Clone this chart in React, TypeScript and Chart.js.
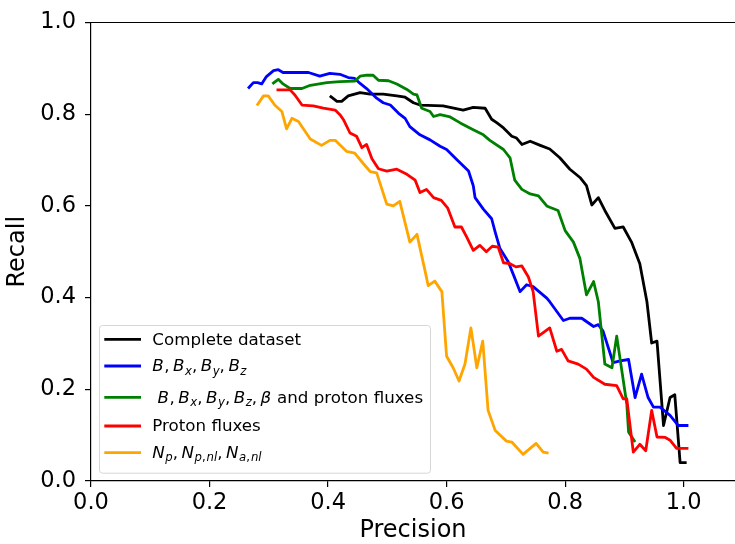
import React, { useEffect, useRef } from "react";
import { Chart, registerables } from "chart.js";

Chart.register(...registerables);

// ---- data -----------------------------------------------------------------
const seriesLabels = [
  "Complete dataset",
  "$B, B_x, B_y, B_z$",
  " $B, B_x, B_y, B_z, \\beta$ and proton fluxes",
  "Proton fluxes",
  "$N_p, N_{p,nl}, N_{a,nl}$",
];
const seriesColors = ["#000000", "#0000ff", "#008000", "#ff0000", "#ffa500"];

const xTicks = [0.0, 0.2, 0.4, 0.6, 0.8, 1.0];
const yTicks = [0.0, 0.2, 0.4, 0.6, 0.8, 1.0];

const blackX = [0.403,0.415,0.423,0.434,0.454,0.471,0.493,0.516,0.530,0.544,0.555,0.594,0.628,0.645,0.665,0.676,0.685,0.696,0.710,0.718,0.727,0.741,0.758,0.774,0.791,0.808,0.825,0.836,0.845,0.856,0.867,0.884,0.898,0.912,0.926,0.938,0.946,0.955,0.966,0.977,0.985,0.994,1.005];
const blackY = [0.840,0.828,0.828,0.840,0.847,0.844,0.844,0.840,0.837,0.825,0.820,0.818,0.809,0.815,0.813,0.789,0.781,0.770,0.752,0.748,0.734,0.741,0.732,0.724,0.705,0.680,0.662,0.644,0.602,0.618,0.590,0.551,0.554,0.521,0.474,0.391,0.301,0.305,0.121,0.182,0.188,0.040,0.040];

const blueX = [0.265,0.274,0.281,0.288,0.296,0.308,0.316,0.324,0.347,0.367,0.386,0.403,0.420,0.434,0.445,0.454,0.465,0.482,0.493,0.505,0.519,0.530,0.538,0.555,0.572,0.589,0.600,0.617,0.637,0.645,0.648,0.662,0.676,0.682,0.690,0.704,0.713,0.724,0.735,0.746,0.769,0.774,0.797,0.808,0.828,0.848,0.856,0.864,0.873,0.881,0.893,0.907,0.918,0.929,0.940,0.949,0.960,0.977,0.991,1.008];
const blueY = [0.856,0.869,0.869,0.866,0.882,0.895,0.897,0.891,0.891,0.891,0.883,0.889,0.887,0.880,0.878,0.867,0.856,0.835,0.825,0.820,0.802,0.791,0.773,0.755,0.744,0.730,0.723,0.701,0.676,0.644,0.618,0.593,0.572,0.543,0.507,0.478,0.449,0.413,0.428,0.424,0.399,0.391,0.350,0.355,0.355,0.337,0.341,0.327,0.290,0.258,0.262,0.265,0.182,0.233,0.182,0.161,0.161,0.143,0.121,0.121];

const greenX = [0.306,0.316,0.324,0.336,0.356,0.370,0.398,0.420,0.445,0.454,0.465,0.476,0.485,0.502,0.516,0.533,0.544,0.550,0.558,0.572,0.578,0.589,0.606,0.623,0.645,0.662,0.673,0.696,0.707,0.715,0.727,0.741,0.755,0.769,0.774,0.788,0.800,0.814,0.825,0.836,0.848,0.856,0.867,0.879,0.887,0.904,0.907,0.918];
const greenY = [0.866,0.876,0.866,0.856,0.856,0.863,0.869,0.871,0.872,0.883,0.885,0.885,0.874,0.873,0.866,0.854,0.844,0.842,0.813,0.806,0.795,0.799,0.794,0.781,0.766,0.755,0.743,0.723,0.705,0.656,0.636,0.626,0.622,0.600,0.597,0.590,0.546,0.521,0.485,0.406,0.435,0.391,0.255,0.247,0.316,0.168,0.107,0.085];

const redX = [0.313,0.336,0.344,0.356,0.375,0.392,0.412,0.420,0.426,0.437,0.448,0.457,0.465,0.474,0.485,0.499,0.516,0.533,0.547,0.555,0.566,0.578,0.591,0.602,0.614,0.625,0.634,0.645,0.656,0.667,0.677,0.687,0.696,0.707,0.717,0.727,0.738,0.746,0.755,0.774,0.786,0.794,0.805,0.822,0.836,0.848,0.867,0.887,0.898,0.904,0.915,0.926,0.936,0.946,0.955,0.969,0.977,0.988,1.008];
const redY = [0.853,0.853,0.842,0.820,0.818,0.813,0.809,0.799,0.788,0.759,0.752,0.727,0.734,0.703,0.681,0.676,0.680,0.669,0.656,0.629,0.636,0.618,0.612,0.595,0.554,0.554,0.532,0.503,0.514,0.500,0.512,0.510,0.476,0.474,0.467,0.469,0.445,0.413,0.316,0.334,0.283,0.287,0.262,0.255,0.244,0.226,0.211,0.208,0.179,0.179,0.063,0.080,0.066,0.154,0.096,0.095,0.089,0.071,0.071];

const orangeX = [0.280,0.291,0.299,0.310,0.322,0.330,0.339,0.350,0.370,0.389,0.403,0.412,0.431,0.445,0.459,0.471,0.482,0.499,0.510,0.521,0.538,0.550,0.564,0.569,0.580,0.592,0.600,0.611,0.621,0.631,0.641,0.651,0.661,0.670,0.682,0.701,0.710,0.729,0.751,0.763,0.772];
const orangeY = [0.819,0.840,0.840,0.820,0.806,0.768,0.791,0.784,0.746,0.732,0.743,0.743,0.719,0.715,0.693,0.675,0.672,0.604,0.600,0.610,0.521,0.538,0.456,0.426,0.436,0.413,0.272,0.247,0.218,0.255,0.334,0.247,0.305,0.154,0.110,0.087,0.085,0.058,0.082,0.063,0.061];

const seriesX = [blackX, blueX, greenX, redX, orangeX];
const seriesY = [blackY, blueY, greenY, redY, orangeY];

// ---- tiny mathtext renderer for the legend ---------------------------------
type Seg = { t: string; it: boolean; sub: boolean; comma?: boolean };
const greek: Record<string, string> = { beta: "β", alpha: "α", gamma: "γ" };

function parseLabel(label: string): Seg[] {
  const segs: Seg[] = [];
  const parts = label.split("$");
  const pushMath = (s: string, sub: boolean) => {
    let k = 0;
    while (k < s.length) {
      const c = s[k];
      if (c === "\\") {
        const m = /^\\([a-zA-Z]+)/.exec(s.slice(k));
        const name = m ? m[1] : "";
        segs.push({ t: greek[name] ?? name, it: true, sub });
        k += m ? m[0].length : 1;
        continue;
      }
      if (c === " ") { k++; continue; }
      if (c === ",") { segs.push({ t: ",", it: false, sub, comma: true }); k++; continue; }
      if (c === "_") {
        k++;
        let content = "";
        if (s[k] === "{") {
          const end = s.indexOf("}", k);
          content = s.slice(k + 1, end);
          k = end + 1;
        } else {
          content = s[k];
          k++;
        }
        pushMath(content, true);
        continue;
      }
      segs.push({ t: c, it: true, sub });
      k++;
    }
  };
  parts.forEach((p, i) => {
    if (i % 2 === 0) {
      if (p) segs.push({ t: p, it: false, sub: false });
    } else pushMath(p, false);
  });
  return segs;
}

const FONT = "'DejaVu Sans', 'Liberation Sans', sans-serif";

const legendPlugin = {
  id: "mplLegend",
  afterDraw(chart: any) {
    const ctx: CanvasRenderingContext2D = chart.ctx;
    const ca = chart.chartArea;
    const size = 16.7;
    const subSize = size * 0.7;
    const boxL = ca.left + 8;
    const boxB = ca.bottom - 8.3;
    const boxW = 331;
    const boxH = 147.7;
    const boxT = boxB - boxH;
    ctx.save();
    ctx.beginPath();
    (ctx as any).roundRect(boxL + 0.5, boxT + 0.5, boxW, boxH, 3);
    ctx.fillStyle = "rgba(255,255,255,0.8)";
    ctx.fill();
    ctx.strokeStyle = "#d6d6d6";
    ctx.lineWidth = 1;
    ctx.stroke();

    const rowOffsets = [14.3, 41.0, 72.3, 101.0, 127.7];
    const datasets = chart.data.datasets;
    datasets.forEach((ds: any, i: number) => {
      const ly = boxT + rowOffsets[i];
      ctx.beginPath();
      ctx.moveTo(boxL + 5.3, ly);
      ctx.lineTo(boxL + 42, ly);
      ctx.strokeStyle = ds.borderColor;
      ctx.lineWidth = 2.8;
      ctx.lineCap = "butt";
      ctx.stroke();

      let x = boxL + 53.3;
      const base = ly + 5.4;
      ctx.fillStyle = "#000";
      ctx.textBaseline = "alphabetic";
      ctx.textAlign = "left";
      for (const s of parseLabel(ds.label)) {
        const fs = s.sub ? subSize : size;
        ctx.font = `${s.it ? "italic " : ""}${fs}px ${FONT}`;
        const y = s.sub ? base + 3.3 : base;
        ctx.fillText(s.t, x, y);
        x += ctx.measureText(s.t).width;
        if (s.comma) x += s.sub ? 1.0 : 3.5;
        else if (s.it && !s.sub) x += 0.5;
      }
    });
    ctx.restore();
  },
};

const topSpinePlugin = {
  id: "topSpine",
  afterDatasetsDraw(chart: any) {
    const ctx: CanvasRenderingContext2D = chart.ctx;
    const ca = chart.chartArea;
    ctx.save();
    ctx.beginPath();
    ctx.moveTo(ca.left, ca.top);
    ctx.lineTo(ca.right, ca.top);
    ctx.strokeStyle = "#000";
    ctx.lineWidth = 1.2;
    ctx.stroke();
    ctx.restore();
  },
};

export default function App() {
  const ref = useRef<HTMLCanvasElement | null>(null);

  useEffect(() => {
    if (!ref.current) return;
    const datasets = seriesLabels.map((label, i) => ({
      label,
      data: seriesX[i].map((x, k) => ({ x, y: seriesY[i][k] })),
      showLine: true,
      borderColor: seriesColors[i],
      backgroundColor: seriesColors[i],
      borderWidth: 2.8,
      pointRadius: 0,
      pointHoverRadius: 0,
      tension: 0,
      borderJoinStyle: "round" as const,
      borderCapStyle: "butt" as const,
      order: seriesLabels.length - 1 - i,
    }));

    const tickFont = { family: FONT, size: 22.5 };
    const titleFont = { family: FONT, size: 24, lineHeight: 1.2 };

    const chart = new Chart(ref.current, {
      type: "scatter",
      data: { datasets },
      options: {
        animation: false,
        responsive: false,
        devicePixelRatio: 1,
        layout: { padding: { top: 18.5, right: 0, bottom: 0, left: 0 } },
        plugins: { legend: { display: false }, tooltip: { enabled: false } },
        events: [],
        scales: {
          x: {
            type: "linear",
            min: 0,
            max: 1.0866,
            afterFit: (s: any) => { s.height = 63; },
            afterBuildTicks: (s: any) => { s.ticks = xTicks.map((v) => ({ value: v })); },
            ticks: {
              includeBounds: false,
              font: tickFont,
              color: "#000",
              padding: 2.8,
              maxRotation: 0,
              autoSkip: false,
              callback: (v: any) => Number(v).toFixed(1),
            },
            grid: { display: true, drawOnChartArea: false, drawTicks: true, tickLength: 6, color: "#000", lineWidth: 1.2 },
            border: { display: true, color: "#000", width: 1.2 },
            title: { display: true, text: "Precision", font: titleFont, color: "#000", padding: { top: 0, bottom: -1.4 } },
          },
          y: {
            type: "linear",
            min: 0,
            max: 1,
            afterFit: (s: any) => { s.width = 91; },
            afterBuildTicks: (s: any) => { s.ticks = yTicks.map((v) => ({ value: v })); },
            ticks: {
              font: tickFont,
              color: "#000",
              padding: 9,
              autoSkip: false,
              callback: (v: any) => Number(v).toFixed(1),
            },
            grid: { display: true, drawOnChartArea: false, drawTicks: true, tickLength: 6, color: "#000", lineWidth: 1.2 },
            border: { display: true, color: "#000", width: 1.2 },
            title: { display: true, text: "Recall", font: titleFont, color: "#000", padding: { top: 3.6, bottom: 0 } },
          },
        },
      },
      plugins: [topSpinePlugin, legendPlugin],
    } as any);
    return () => chart.destroy();
  }, []);

  return (
    <div style={{ position: "absolute", left: 0, top: 0, width: 735, height: 544, background: "#fff" }}>
      <canvas ref={ref} width={735} height={544} style={{ width: 735, height: 544, display: "block" }} />
    </div>
  );
}
